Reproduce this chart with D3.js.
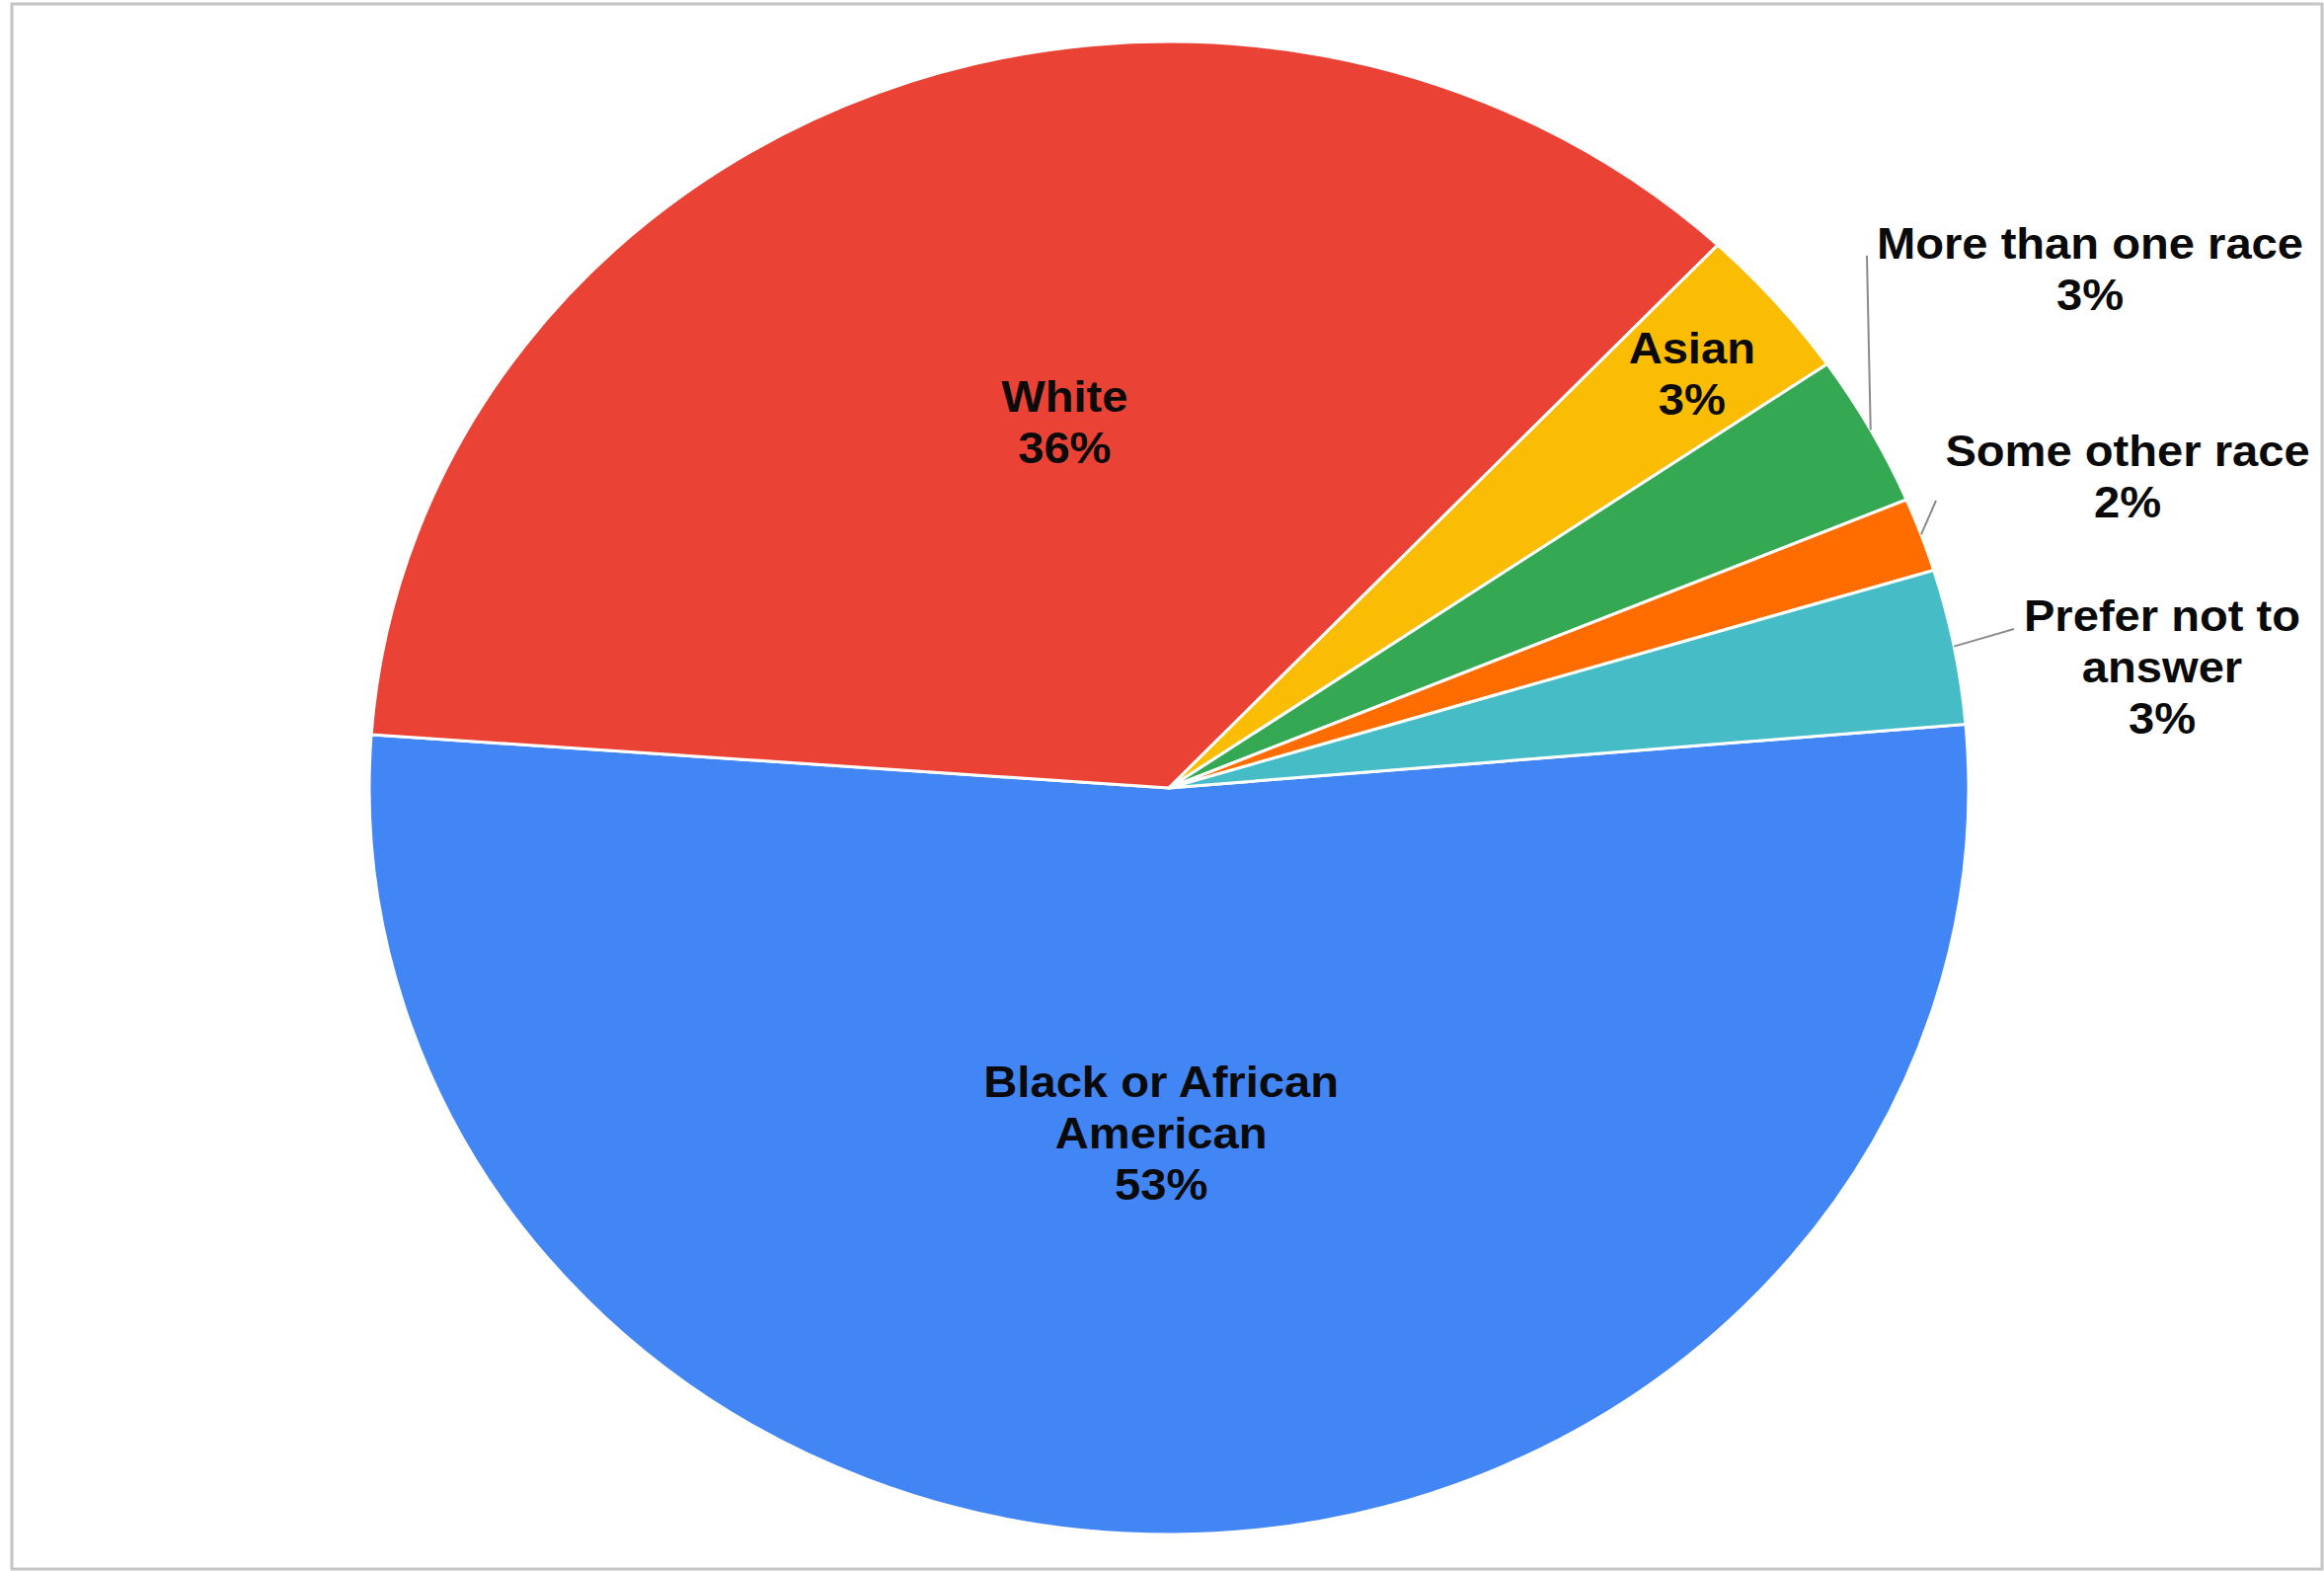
<!DOCTYPE html>
<html>
<head>
<meta charset="utf-8">
<script src="https://cdn.jsdelivr.net/npm/d3@7"></script>
<style>
  body { margin: 0; background: #fff; }
</style>
</head>
<body>
<div class="first"></div>
<script>
// race breakdown, percent of respondents
const categories = ["Black or African American", "White", "Asian",
                    "More than one race", "Some other race", "Prefer not to answer"];
const values = [52.5, 35.9, 3.35, 3.3, 1.6, 3.35];
const colors = ["#4285F4", "#EA4335", "#FBBC04", "#34A853", "#FF6D01", "#46BDC6"];
// how each category name is broken onto lines
const nameLines = [["Black or African", "American"], ["White"], ["Asian"],
                   ["More than one race"], ["Some other race"], ["Prefer not to", "answer"]];

const w = 2354;
const h = 1591;
const cx = 1184, cy = 798;
const r = 756;
const sx = 1.0714;          // the original picture is a little wider than tall
const startDeg = 85.1;
const lineH = 52;

// label placement: inside ones sit on the slice (radius fraction + angle nudge),
// outside ones get a spot on the right with a leader line
const place = {
  0: {inside: true, k: 0.462, da: 1.6},
  1: {inside: true, k: 0.508, da: 6.4},
  2: {inside: true, k: 0.858, da: 0.3},
  3: {inside: false, x: 2117, y: 262, lx: 1891, ly: 259},
  4: {inside: false, x: 2155, y: 472, lx: 1961, ly: 507},
  5: {inside: false, x: 2190, y: 639, lx: 2040, ly: 637}
};

const svg = d3.select('.first')
              .append('svg')
              .attr('width', w)
              .attr('height', h);

svg.append('rect')
   .attr('width', w)
   .attr('height', h)
   .attr('fill', '#fff');

// frame
svg.append('rect')
   .attr('x', 12)
   .attr('y', 4)
   .attr('width', 2340)
   .attr('height', 1585)
   .attr('fill', 'none')
   .attr('stroke', '#c4c4c4')
   .attr('stroke-width', 3);

const a0 = startDeg * Math.PI / 180;
const pie = d3.pie()
              .sort(null)
              .value(d => d)
              .startAngle(a0)
              .endAngle(a0 + 2 * Math.PI);

const arcs = pie(values);
const arc = d3.arc().innerRadius(0).outerRadius(r);

const g = svg.append('g')
             .attr('transform', `translate(${cx},${cy}) scale(${sx},1)`);

g.selectAll('path')
 .data(arcs)
 .enter()
 .append('path')
 .attr('d', arc)
 .attr('fill', (d, i) => colors[i])
 .attr('stroke', '#fff')
 .attr('stroke-width', 3)
 .attr('vector-effect', 'non-scaling-stroke');

function pt(angle, rad) {
    return [cx + rad * Math.sin(angle) * sx, cy - rad * Math.cos(angle)];
}

const labels = svg.append('g');

arcs.forEach(function(d, i) {
    const p = place[i];
    const lines = nameLines[i].concat([Math.round(values[i]) + '%']);
    const mid = (d.startAngle + d.endAngle) / 2;
    let x, y0;
    if (p.inside) {
        const c = pt(mid + p.da * Math.PI / 180, p.k * r);
        x = c[0];
        y0 = c[1] - (lines.length - 1) * lineH / 2 + 16;
    } else {
        const s = pt(mid, r);
        labels.append('line')
              .attr('x1', s[0])
              .attr('y1', s[1])
              .attr('x2', p.lx)
              .attr('y2', p.ly)
              .attr('stroke', '#8a8a8a')
              .attr('stroke-width', 2);
        x = p.x;
        y0 = p.y;
    }
    lines.forEach(function(t, j) {
        labels.append('text')
              .attr('transform', `translate(${x},${y0 + j * lineH}) scale(${sx},1)`)
              .attr('text-anchor', 'middle')
              .attr('font-family', '"Liberation Sans", Arial, sans-serif')
              .attr('font-weight', 'bold')
              .attr('font-size', 44)
              .attr('fill', '#0a0a0a')
              .text(t);
    });
});
</script>
</body>
</html>
